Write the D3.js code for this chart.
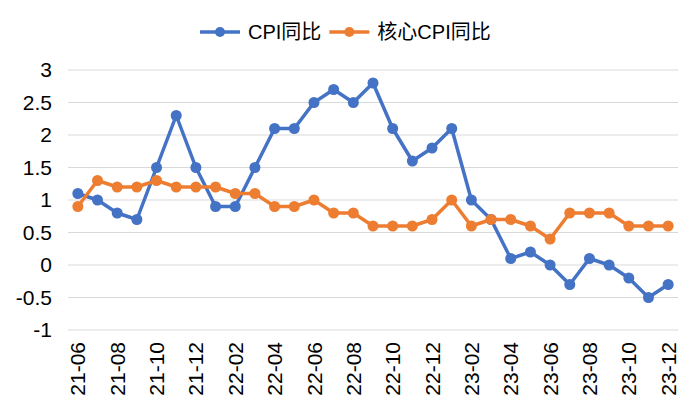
<!DOCTYPE html>
<html>
<head>
<meta charset="utf-8">
<script src="https://cdn.jsdelivr.net/npm/d3@7"></script>
<style>
  body { margin: 0; background: #fff; }
  text { font-family: "Liberation Sans", Arial, "Noto Sans CJK SC", sans-serif; fill: #000; }
</style>
</head>
<body>
<div id="chart"></div>
<script>
// months 21-06 .. 23-12
const months = ["21-06","21-07","21-08","21-09","21-10","21-11","21-12",
  "22-01","22-02","22-03","22-04","22-05","22-06","22-07","22-08","22-09","22-10","22-11","22-12",
  "23-01","23-02","23-03","23-04","23-05","23-06","23-07","23-08","23-09","23-10","23-11","23-12"];
const cpi  = [1.1,1.0,0.8,0.7,1.5,2.3,1.5, 0.9,0.9,1.5,2.1,2.1,2.5,2.7,2.5,2.8,2.1,1.6,1.8, 2.1,1.0,0.7,0.1,0.2,0.0,-0.3,0.1,0.0,-0.2,-0.5,-0.3];
const core = [0.9,1.3,1.2,1.2,1.3,1.2,1.2, 1.2,1.1,1.1,0.9,0.9,1.0,0.8,0.8,0.6,0.6,0.6,0.7, 1.0,0.6,0.7,0.7,0.6,0.4,0.8,0.8,0.8,0.6,0.6,0.6];
const yTicks = [-1,-0.5,0,0.5,1,1.5,2,2.5,3];
const series = [
  {name: "CPI同比", values: cpi, color: "#4472C4"},
  {name: "核心CPI同比", values: core, color: "#ED7D31"}
];

const W = 700, H = 420;
const margin = {top: 70, right: 22, bottom: 90, left: 68};
const width = W - margin.left - margin.right,
      height = H - margin.top - margin.bottom;

const svg = d3.select("#chart").append("svg")
  .attr("width", W).attr("height", H);
const g = svg.append("g")
  .attr("transform", `translate(${margin.left},${margin.top})`);

const x = d3.scaleBand().domain(months).range([0, width]);
const y = d3.scaleLinear().domain([-1, 3]).range([height, 0]);

// gridlines
g.selectAll("line.grid")
  .data(yTicks)
  .join("line")
    .attr("x1", 0).attr("x2", width)
    .attr("y1", d => y(d)).attr("y2", d => y(d))
    .attr("stroke", "#d9d9d9").attr("stroke-width", 1.2);

// y labels
g.selectAll("text.ylab")
  .data(yTicks)
  .join("text")
    .attr("x", -16).attr("y", d => y(d))
    .attr("dy", "0.35em")
    .attr("text-anchor", "end")
    .style("font-size", "21px")
    .text(d => d);

// x labels, every second month
const xLabels = months.filter((d, i) => i % 2 === 0);
g.selectAll("text.xlab")
  .data(xLabels)
  .join("text")
    .attr("transform", d => `translate(${x(d) + x.bandwidth() / 2},${height + 12}) rotate(-90)`)
    .attr("dy", "0.36em")
    .attr("text-anchor", "end")
    .style("font-size", "21px")
    .text(d => d);

const cx = d => x(d) + x.bandwidth() / 2;
const line = d3.line()
  .x((d, i) => cx(months[i]))
  .y(d => y(d));

series.forEach(s => {
  g.append("path")
    .datum(s.values)
    .attr("fill", "none")
    .attr("stroke", s.color)
    .attr("stroke-width", 3.5)
    .attr("stroke-linejoin", "round")
    .attr("d", line);
  g.selectAll(null)
    .data(s.values)
    .join("circle")
      .attr("cx", (d, i) => cx(months[i]))
      .attr("cy", d => y(d))
      .attr("r", 5.5)
      .attr("fill", s.color);
});

// legend
const legend = svg.append("g").attr("transform", "translate(200,32)");
let lx = 0;
series.forEach(s => {
  const item = legend.append("g").attr("transform", `translate(${lx},0)`);
  item.append("line")
    .attr("x1", 0).attr("x2", 40).attr("y1", 0).attr("y2", 0)
    .attr("stroke", s.color).attr("stroke-width", 3.5);
  item.append("circle").attr("cx", 20).attr("cy", 0).attr("r", 5).attr("fill", s.color);
  const t = item.append("text")
    .attr("x", 48).attr("dy", "0.35em")
    .style("font-size", "20px")
    .text(s.name);
  lx += 48 + t.node().getComputedTextLength() + 8;
});
</script>
</body>
</html>
